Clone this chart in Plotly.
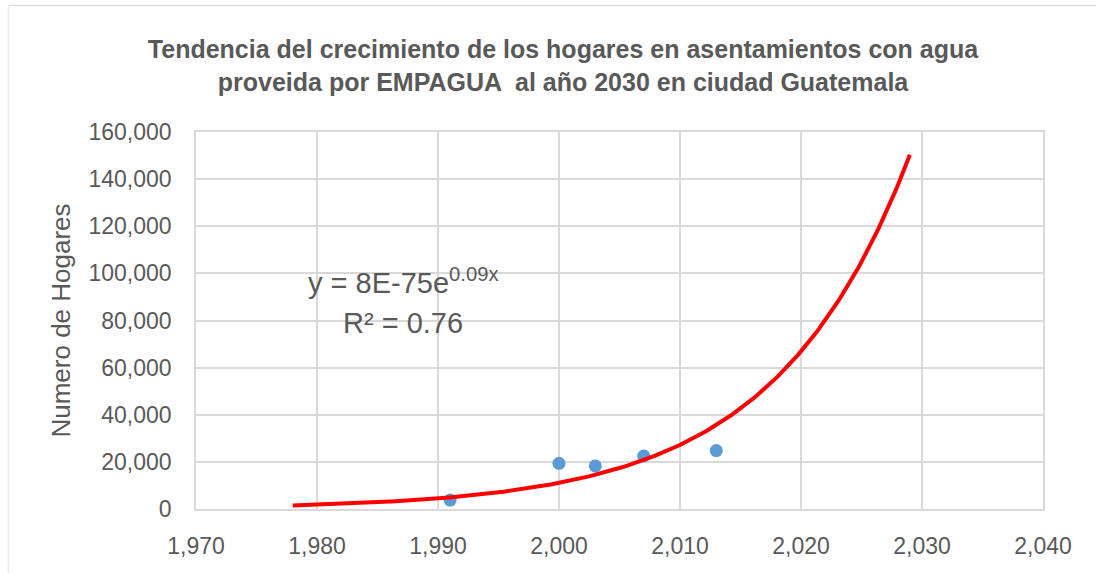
import numpy as np
import plotly.graph_objects as go

# Observed households served by EMPAGUA
years = [1991, 2000, 2003, 2007, 2013]
households = [3800, 19400, 18300, 22500, 24800]

# Exponential trend y = a * e^(b x), shown rounded in the label
trend_a = 8e-75
trend_b = 0.089963
trend_start, trend_end = 1978, 2029

x_ticks = [1970, 1980, 1990, 2000, 2010, 2020, 2030, 2040]
y_ticks = [0, 20000, 40000, 60000, 80000, 100000, 120000, 140000, 160000]

trend_x = np.linspace(trend_start, trend_end, 300)
trend_y = trend_a * np.exp(trend_b * trend_x)

grey = "#595959"
grid = "#d9d9d9"
font = "Liberation Sans, Arial, sans-serif"

# plot-area geometry in pixels, used to place labels in paper units
L, R, T, B = 196, 1043, 132, 509
W, H = R - L, B - T


def px(x):
    return (x - L) / W


def py(y):
    return (B - y) / H


fig = go.Figure()
fig.add_trace(go.Scatter(
    x=years, y=households, mode="markers",
    marker=dict(color="#5b9bd5", size=13, line=dict(width=0)),
    showlegend=False,
))
fig.add_trace(go.Scatter(
    x=trend_x, y=trend_y, mode="lines",
    line=dict(color="#ff0000", width=4),
    showlegend=False,
))

fig.update_layout(
    width=1096, height=573,
    margin=dict(l=L, r=1096 - R, t=T, b=573 - B),
    paper_bgcolor="white", plot_bgcolor="white",
    font=dict(family=font, color=grey),
    title=dict(
        text="<b>Tendencia del crecimiento de los hogares en asentamientos con agua<br>"
             "proveida por EMPAGUA  al año 2030 en ciudad Guatemala</b>",
        x=563 / 1096, xanchor="center", xref="container",
        y=1 - 58 / 573, yanchor="middle", yref="container",
        font=dict(size=25, color=grey, family=font),
    ),
    xaxis=dict(
        range=[1970, 2040], tickvals=x_ticks,
        ticktext=[f"{v:,}" for v in x_ticks],
        showgrid=True, gridcolor=grid, gridwidth=1.5,
        showline=True, linecolor=grid, linewidth=1.5, mirror=True,
        zeroline=False, ticks="", ticklabelstandoff=16,
        tickfont=dict(size=23, color=grey),
    ),
    yaxis=dict(
        range=[0, 160000], tickvals=y_ticks,
        ticktext=[f"{v:,}" for v in y_ticks],
        showgrid=True, gridcolor=grid, gridwidth=1.5,
        showline=True, linecolor=grid, linewidth=1.5, mirror=True,
        zeroline=False, ticks="", ticklabelstandoff=18,
        tickfont=dict(size=23, color=grey),
        title=dict(text="Numero de Hogares", font=dict(size=26, color=grey), standoff=10),
    ),
)

# Trendline equation and R²
fig.add_annotation(
    x=px(403), y=py(281), xref="paper", yref="paper",
    xanchor="center", yanchor="middle", showarrow=False,
    text="y = 8E-75e<sup>0.09x</sup>", font=dict(size=29, color=grey),
)
fig.add_annotation(
    x=px(403), y=py(323), xref="paper", yref="paper",
    xanchor="center", yanchor="middle", showarrow=False,
    text="R² = 0.76", font=dict(size=29, color=grey),
)

# Faint chart-area border (top and left)
fig.add_shape(type="line", xref="paper", yref="paper",
              x0=px(8), x1=px(1096), y0=py(5.5), y1=py(5.5),
              line=dict(color="#dedede", width=1.5))
fig.add_shape(type="line", xref="paper", yref="paper",
              x0=px(8.5), x1=px(8.5), y0=py(5.5), y1=py(573),
              line=dict(color="#ececec", width=1.5))

fig.write_html("out.html")
